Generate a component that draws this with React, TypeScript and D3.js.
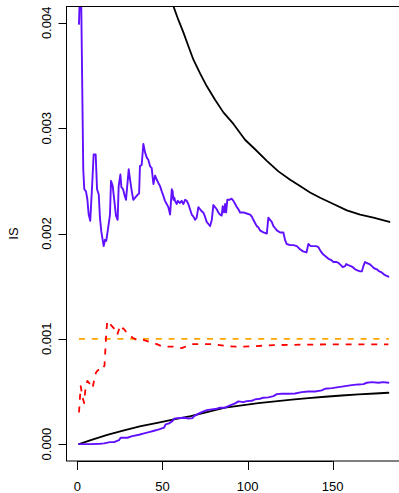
import React from "react";
import * as d3 from "d3";

type Pt = [number, number];

const xTicks = [0, 50, 100, 150];
const yTicks = [0, 0.001, 0.002, 0.003, 0.004];
const yTickLabels = ["0.000", "0.001", "0.002", "0.003", "0.004"];
const yLabel = "IS";
const xLim: Pt = [1, 183];
const yLim: Pt = [0, 0.004];

const purpleUpper: Pt[] = [
  [1, 0.00399], [2, 0.0046], [3.5, 0.00261], [4.1, 0.00242], [5.1, 0.0024], [5.9, 0.002325],
  [6.7, 0.00218], [7.6, 0.00212], [8.6, 0.00242], [9.6, 0.00275], [10.8, 0.00275], [11.6, 0.00242],
  [12.6, 0.00237], [13.3, 0.00215], [14.1, 0.00202], [14.9, 0.00194], [15.5, 0.00188], [16.3, 0.00194],
  [17, 0.00193], [18, 0.00204], [19.2, 0.00218], [19.8, 0.0025], [20.8, 0.00245], [21.7, 0.00232],
  [22.7, 0.00217], [23.7, 0.00213], [24.3, 0.00245], [25.3, 0.00256], [25.9, 0.00244], [26.9, 0.00242],
  [27.8, 0.00236], [28.6, 0.00232], [30.2, 0.00261], [31, 0.00251], [32, 0.0024], [32.9, 0.00232],
  [34, 0.00234], [35.5, 0.00237], [36.3, 0.00238], [36.8, 0.00264], [37.8, 0.00265], [38.8, 0.00285],
  [39.8, 0.00277], [40.8, 0.00272], [41.7, 0.0027], [42.7, 0.00264], [43.7, 0.00262], [44.7, 0.00247],
  [45.7, 0.00255], [46.7, 0.00251], [47.6, 0.00248], [48.6, 0.00245], [49.6, 0.0024], [50.5, 0.00236],
  [51.5, 0.00231], [52.5, 0.00228], [53.5, 0.00225], [54.5, 0.00218], [55.5, 0.00242], [56, 0.0024],
  [56.4, 0.00232], [57, 0.00234], [57.4, 0.00231], [58.4, 0.00228], [59, 0.00231], [60.3, 0.00229],
  [61.3, 0.00231], [62.3, 0.00228], [63.3, 0.00232], [64.3, 0.00231], [65.2, 0.00228], [66.2, 0.00223],
  [67.2, 0.00218], [68.2, 0.00216], [69.2, 0.00213], [70.1, 0.00215], [71.1, 0.00225], [72.1, 0.00223],
  [73.1, 0.00221], [74, 0.0022], [75, 0.00216], [76, 0.00211], [77, 0.00209], [78, 0.00207],
  [79, 0.00213], [79.9, 0.00227], [80.9, 0.00225], [81.9, 0.00223], [82.8, 0.0022], [83.8, 0.00218],
  [84.8, 0.00217], [85.4, 0.00226], [86.2, 0.0022], [86.8, 0.00228], [87.4, 0.0022], [88.1, 0.00232],
  [89.3, 0.00232], [90.7, 0.00233], [91.7, 0.00231], [92.7, 0.00228], [93.7, 0.00225], [94.6, 0.00223],
  [95.6, 0.0022], [97.5, 0.0022], [99.5, 0.00219], [101.5, 0.00218], [102.5, 0.00216], [103.4, 0.00213],
  [104.4, 0.0021], [105.4, 0.00207], [106.3, 0.00206], [107.3, 0.00203], [108.3, 0.00202], [109.3, 0.00201],
  [111.3, 0.002], [112.2, 0.00215], [113.2, 0.00213], [114.2, 0.00211], [115.2, 0.00207], [116.2, 0.00205],
  [117.2, 0.00203], [119.1, 0.00201], [120.1, 0.00201], [121, 0.00201], [122, 0.00194], [123, 0.0019],
  [125, 0.00189], [126.9, 0.00189], [128.9, 0.00188], [130.8, 0.00185], [132.6, 0.00183], [134.6, 0.00182],
  [135.7, 0.0019], [137.1, 0.00188], [138.7, 0.00188], [140.2, 0.00188], [141.6, 0.00187], [143, 0.00183],
  [144.5, 0.0018], [146.1, 0.00178], [147.5, 0.00176], [148.9, 0.00175], [150.4, 0.00173], [152, 0.00173],
  [153.4, 0.00172], [154.8, 0.0017], [155.9, 0.00168], [157.3, 0.00169], [157.9, 0.00171], [159.2, 0.0017],
  [160.6, 0.00169], [161.8, 0.00168], [163.2, 0.00166], [164.5, 0.00165], [166.1, 0.00164], [167.1, 0.00164],
  [168, 0.00169], [169, 0.00173], [170, 0.00172], [171.6, 0.00171], [173, 0.00169], [174.3, 0.00167],
  [175.9, 0.00166], [177.4, 0.00164], [178.8, 0.00163], [180.2, 0.00161], [181.4, 0.0016], [182.7, 0.00159],
];

const blackUpper: Pt[] = [
  [55, 0.00423], [56.4, 0.00416], [59.3, 0.00403], [62.3, 0.00391], [65.2, 0.00378], [68.2, 0.00365],
  [72.1, 0.00352], [76, 0.0034], [80.9, 0.00327], [85.8, 0.00315], [91.7, 0.00304], [98.5, 0.00289],
  [104.4, 0.0028], [111.3, 0.00269], [118.1, 0.00259], [125, 0.00251], [130.8, 0.00245], [136.7, 0.00239],
  [142.6, 0.00234], [150.4, 0.00228], [158.3, 0.00222], [166.1, 0.00218], [173.9, 0.00215], [183.3, 0.00211],
];

const blackLower: Pt[] = [
  [1, 0], [7.9, 0.000038], [17.6, 0.000089], [27.4, 0.00013], [37.3, 0.000171], [47, 0.000203],
  [56.8, 0.000235], [66.6, 0.000266], [74.4, 0.000298], [86.8, 0.000346], [96.6, 0.000368],
  [106.3, 0.000389], [116.2, 0.000406], [126, 0.000422], [135.7, 0.000437], [145.5, 0.00045],
  [155.3, 0.000462], [165.1, 0.000472], [174.9, 0.000481], [182.7, 0.000488],
];

const purpleLower: Pt[] = [
  [1, 0], [7.9, 0], [13.3, 0.000004], [15.7, 0.000007], [19.2, 0.000019], [21.6, 0.000019],
  [24.5, 0.000038], [25.5, 0.000061], [29.4, 0.000061], [32.3, 0.000076], [36.3, 0.000089],
  [39.2, 0.000102], [42.1, 0.000114], [45.1, 0.000127], [48, 0.00014], [50.9, 0.000156],
  [51.9, 0.000187], [53.9, 0.000197], [55.8, 0.000218], [56.8, 0.000241], [58.8, 0.000247],
  [62.7, 0.000251], [65.6, 0.000244], [67.6, 0.000247], [68.6, 0.000266], [71.5, 0.000292],
  [73.1, 0.000304], [76, 0.000323], [79, 0.00033], [81.9, 0.000336], [83.8, 0.000346],
  [86.8, 0.000346], [89.7, 0.000368], [92.7, 0.000387], [94.6, 0.000406], [97.5, 0.000399],
  [99.5, 0.000408], [102.5, 0.000412], [104.4, 0.000425], [107.3, 0.000431], [109.3, 0.000441],
  [112.2, 0.000444], [115.2, 0.000456], [117.2, 0.000475], [120.1, 0.000479], [124, 0.000479],
  [127.9, 0.000481], [131.8, 0.000494], [135.7, 0.0005], [139.7, 0.0005], [143.6, 0.00051],
  [145.5, 0.000526], [149.5, 0.000532], [153.4, 0.000541], [157.3, 0.000551], [161.2, 0.00056],
  [165.1, 0.000567], [168, 0.00057], [170, 0.000583], [173, 0.000589], [176.9, 0.000583],
  [179.8, 0.000589], [182.7, 0.000583],
];

const redDashed: Pt[] = [
  [1, 0.0003], [2, 0.00055], [3, 0.00045], [4, 0.00039], [5, 0.00056], [6, 0.0006], [7, 0.00058],
  [8, 0.00056], [9, 0.00053], [10, 0.00062], [11, 0.00068], [12, 0.0007], [13, 0.00071], [14, 0.0007],
  [15, 0.00071], [16, 0.00075], [17, 0.00105], [17.6, 0.00117], [19.2, 0.00114], [23.1, 0.00107],
  [23.5, 0.00104], [25.1, 0.00112], [26.1, 0.00109], [27, 0.0011], [29, 0.00106], [32.5, 0.00101],
  [34.9, 0.00099], [38.8, 0.00099], [42.7, 0.00097], [46.7, 0.00095], [49.6, 0.00093], [52.5, 0.000925],
  [56.4, 0.000925], [61.3, 0.000912], [64.3, 0.00093], [67.2, 0.00095], [72.1, 0.00095], [79.9, 0.00095],
  [87.8, 0.00093], [95.6, 0.000925], [103.4, 0.00093], [115.2, 0.00094], [130.8, 0.000944],
  [146.5, 0.000947], [162.2, 0.000947], [182.7, 0.000947],
];

const orangeRef: Pt[] = [
  [1, 0.001], [183, 0.001],
];

const W = 399;
const H = 493;
const L = 66.6;
const R = 401.3;
const T = 6;
const B = 461;
const FONT = "'Liberation Sans', Arial, Helvetica, sans-serif";

export default function App() {
  const xPad = (xLim[1] - xLim[0]) * 0.04;
  const yPad = (yLim[1] - yLim[0]) * 0.04;
  const x = d3.scaleLinear().domain([xLim[0] - xPad, xLim[1] + xPad]).range([L, R]);
  const y = d3.scaleLinear().domain([yLim[0] - yPad, yLim[1] + yPad]).range([B, T]);
  const line = d3.line<Pt>().x((d) => x(d[0])).y((d) => y(d[1]));

  const series = [
    { data: orangeRef, color: "#FFA500", dash: "6,6.8", w: 1.8 },
    { data: blackUpper, color: "#000000", dash: undefined, w: 1.8 },
    { data: blackLower, color: "#000000", dash: undefined, w: 1.8 },
    { data: purpleUpper, color: "#6010FF", dash: undefined, w: 1.9 },
    { data: purpleLower, color: "#6010FF", dash: undefined, w: 1.9 },
    { data: redDashed, color: "#FF0000", dash: "6,6.8", w: 1.8 },
  ];

  return (
    <svg
      width={W}
      height={H}
      style={{ position: "absolute", left: 0, top: 0, display: "block", background: "#fff" }}
    >
      <defs>
        <clipPath id="plotClip">
          <rect x={L} y={T} width={R - L} height={B - T} />
        </clipPath>
      </defs>
      <g clipPath="url(#plotClip)">
        {series.map((s, i) => (
          <path
            key={i}
            d={line(s.data) || ""}
            fill="none"
            stroke={s.color}
            strokeWidth={s.w}
            strokeDasharray={s.dash}
            strokeLinejoin="round"
            strokeLinecap={s.dash ? "butt" : "round"}
          />
        ))}
      </g>
      <rect x={66.5} y={6.5} width={R - 66.5} height={B - 6.5} fill="none" stroke="#000" strokeWidth={1} />
      {/* y axis */}
      <line x1={66.5} x2={66.5} y1={y(yTicks[0])} y2={y(yTicks[yTicks.length - 1])} stroke="#000" />
      {yTicks.map((t, i) => (
        <g key={i}>
          <line x1={58.5} x2={66.5} y1={Math.round(y(t)) + 0.5} y2={Math.round(y(t)) + 0.5} stroke="#000" />
          <text
            transform={`translate(50.5,${y(t)}) rotate(-90)`}
            textAnchor="middle"
            fontFamily={FONT}
            fontSize={13}
            fill="#000"
          >
            {yTickLabels[i]}
          </text>
        </g>
      ))}
      {/* x axis */}
      <line x1={x(xTicks[0])} x2={x(xTicks[xTicks.length - 1])} y1={461.5} y2={461.5} stroke="#000" />
      {xTicks.map((t, i) => (
        <g key={i}>
          <line x1={Math.round(x(t)) + 0.5} x2={Math.round(x(t)) + 0.5} y1={461} y2={470} stroke="#000" />
          <text x={x(t)} y={490.5} textAnchor="middle" fontFamily={FONT} fontSize={13} fill="#000">
            {String(t)}
          </text>
        </g>
      ))}
      <text
        transform={`translate(18,${(T + B) / 2}) rotate(-90)`}
        textAnchor="middle"
        fontFamily={FONT}
        fontSize={13}
        fill="#000"
      >
        {yLabel}
      </text>
    </svg>
  );
}
